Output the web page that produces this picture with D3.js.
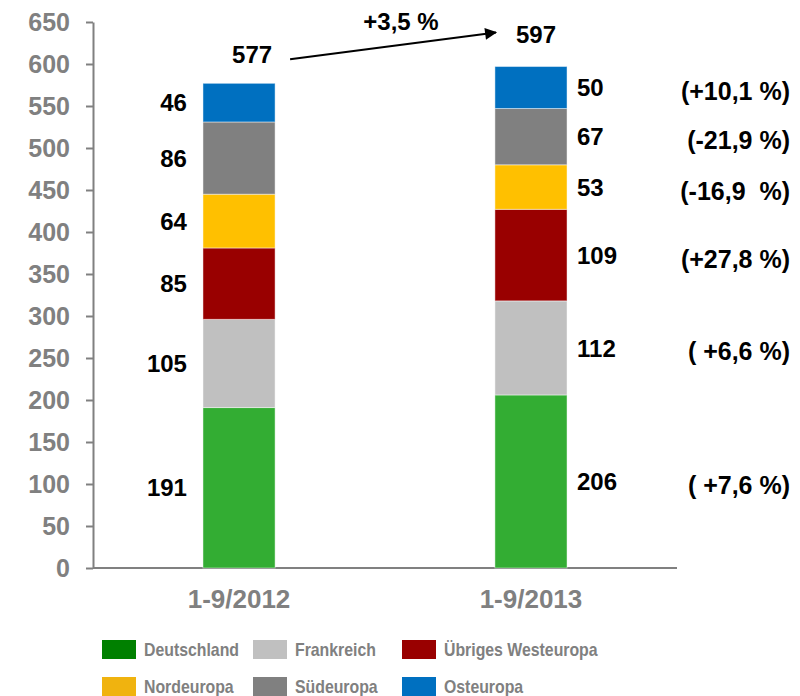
<!DOCTYPE html>
<html>
<head>
<meta charset="utf-8">
<script src="https://cdn.jsdelivr.net/npm/d3@7"></script>
<style>
  body { margin: 0; background: #fff; }
  svg { display: block; font-family: "Liberation Sans", Arial, sans-serif; font-weight: bold; }
  text { white-space: pre; }
</style>
</head>
<body>
<div class="chart"></div>
<script>
// data
var periods = ["1-9/2012", "1-9/2013"];
var regions = ["Deutschland", "Frankreich", "Übriges Westeuropa", "Nordeuropa", "Südeuropa", "Osteuropa"];
var values2012 = [191, 105, 85, 64, 86, 46];
var values2013 = [206, 112, 109, 53, 67, 50];
var totals = [577, 597];
var changes = ["( +7,6 %)", "( +6,6 %)", "(+27,8 %)", "(-16,9  %)", "(-21,9 %)", "(+10,1 %)"];
var totalChange = "+3,5 %";
var yTicks = d3.range(0, 651, 50);

var barColors = ["#33ad33", "#c0c0c0", "#990000", "#ffc000", "#808080", "#0070c0"];
var legendColors = ["#008000", "#c0c0c0", "#990000", "#f0b30f", "#808080", "#0070c0"];

var svgWidth = 800, svgHeight = 696;
var margin = {top: 22, right: 123, bottom: 128, left: 93};
var width = svgWidth - margin.left - margin.right,
    height = svgHeight - margin.top - margin.bottom;

var svg = d3.select(".chart").append("svg")
    .attr("width", svgWidth)
    .attr("height", svgHeight);

var g = svg.append("g")
    .attr("transform", "translate(" + margin.left + "," + margin.top + ")");

var x = d3.scaleBand().domain(periods).range([0, width])
    .paddingInner(0.753).paddingOuter(0.3767);
var y = d3.scaleLinear().domain([0, 650]).range([height, 0]);

// rows for stacking
var rows = periods.map(function(p, i) {
    var r = {period: p};
    regions.forEach(function(k, j) { r[k] = (i === 0 ? values2012 : values2013)[j]; });
    return r;
});
var series = d3.stack().keys(regions)(rows);

// y axis
var yAxis = d3.axisLeft(y).tickValues(yTicks).tickSize(7).tickSizeOuter(0).tickPadding(16);
var ya = g.append("g").call(yAxis);
ya.select(".domain").attr("stroke", "#808080").attr("stroke-width", 2);
ya.selectAll(".tick line").attr("stroke", "#808080").attr("stroke-width", 2);
ya.selectAll(".tick text").attr("fill", "#808080").style("font-size", "25px")
    .style("font-family", "Liberation Sans, Arial, sans-serif").style("font-weight", "bold");

// x axis line
g.append("line")
    .attr("x1", 0).attr("x2", width)
    .attr("y1", y(0)).attr("y2", y(0))
    .attr("stroke", "#808080").attr("stroke-width", 2);

// bars
var layers = g.selectAll(".layer").data(series).enter().append("g")
    .attr("fill", function(d, i) { return barColors[i]; });

layers.selectAll("rect").data(function(d) { return d; }).enter().append("rect")
    .attr("x", function(d) { return x(d.data.period); })
    .attr("y", function(d) { return y(d[1]); })
    .attr("width", x.bandwidth())
    .attr("height", function(d) { return y(d[0]) - y(d[1]); })
    .attr("stroke", "rgba(255,255,255,0.45)")
    .attr("stroke-width", 1);

// segment value labels
series.forEach(function(s, j) {
    s.forEach(function(d, i) {
        var cy = y((d[0] + d[1]) / 2);
        g.append("text")
            .attr("x", i === 0 ? x(d.data.period) - 16 : x(d.data.period) + x.bandwidth() + 10)
            .attr("y", cy)
            .attr("dy", "0.36em")
            .attr("text-anchor", i === 0 ? "end" : "start")
            .style("font-size", "24px")
            .attr("fill", "#000")
            .text(d[1] - d[0]);
    });
    // change labels beside second bar
    var d2 = s[1];
    g.append("text")
        .attr("x", width + 113)
        .attr("y", y((d2[0] + d2[1]) / 2))
        .attr("dy", "0.5em")
        .attr("text-anchor", "end")
        .style("font-size", "25px")
        .attr("fill", "#000")
        .text(changes[j]);
});

// totals
g.append("text")
    .attr("x", x(periods[0]) + x.bandwidth() - 3)
    .attr("y", y(totals[0]) - 20)
    .attr("text-anchor", "end")
    .style("font-size", "24px")
    .text(totals[0]);
g.append("text")
    .attr("x", x(periods[1]) + x.bandwidth() / 2 + 5)
    .attr("y", y(totals[1]) - 24)
    .attr("text-anchor", "middle")
    .style("font-size", "24px")
    .text(totals[1]);

// arrow between totals
svg.append("defs").append("marker")
    .attr("id", "arrow")
    .attr("viewBox", "0 0 10 10")
    .attr("refX", 9).attr("refY", 5)
    .attr("markerWidth", 7).attr("markerHeight", 6)
    .attr("markerUnits", "strokeWidth")
    .attr("orient", "auto")
  .append("path")
    .attr("d", "M0,0 L10,5 L0,10 z")
    .attr("fill", "#000");

var ax1 = x(periods[0]) + x.bandwidth() + 15,
    ay1 = y(totals[0]) - 24,
    ax2 = x(periods[1]) + 1,
    ay2 = y(totals[1]) - 34;
g.append("line")
    .attr("x1", ax1).attr("y1", ay1)
    .attr("x2", ax2).attr("y2", ay2)
    .attr("stroke", "#000").attr("stroke-width", 2)
    .attr("marker-end", "url(#arrow)");

g.append("text")
    .attr("x", (ax1 + ax2) / 2 + 8)
    .attr("y", ay2 - 3)
    .attr("text-anchor", "middle")
    .style("font-size", "24px")
    .text(totalChange);

// category labels
g.selectAll(".cat").data(periods).enter().append("text")
    .attr("x", function(d) { return x(d) + x.bandwidth() / 2; })
    .attr("y", height + 40)
    .attr("text-anchor", "middle")
    .attr("fill", "#808080")
    .style("font-size", "26px")
    .text(function(d) { return d; });

// legend
var legendX = [102, 253, 402];
var legendY = [640, 677];
var legend = svg.selectAll(".legend").data(regions).enter().append("g")
    .attr("transform", function(d, i) {
        return "translate(" + legendX[i % 3] + "," + legendY[Math.floor(i / 3)] + ")";
    });
legend.append("rect")
    .attr("width", 34).attr("height", 19)
    .attr("fill", function(d, i) { return legendColors[i]; });
legend.append("text")
    .attr("transform", "translate(42,16) scale(0.88,1)")
    .attr("fill", "#808080")
    .style("font-size", "18px")
    .text(function(d) { return d; });
</script>
</body>
</html>
